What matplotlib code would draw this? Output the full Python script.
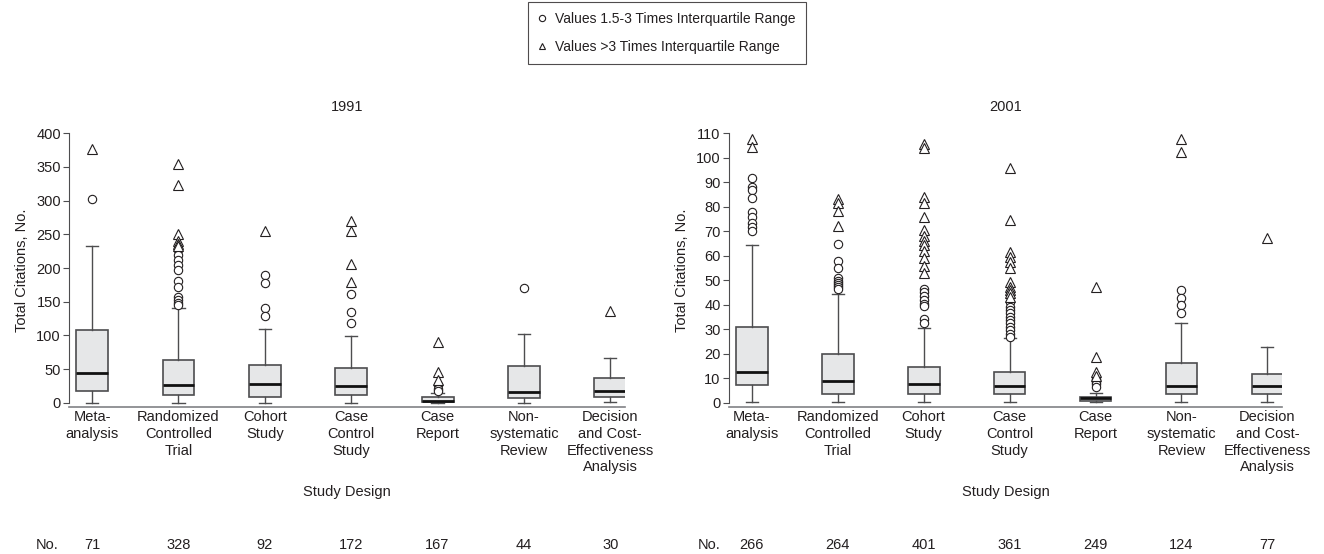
import matplotlib
matplotlib.use("Agg")
import matplotlib.pyplot as plt
from matplotlib.lines import Line2D

plt.rcParams['font.family'] = ['Liberation Sans', 'DejaVu Sans']
plt.rcParams['text.color'] = '#231f20'
plt.rcParams['axes.labelcolor'] = '#231f20'
plt.rcParams['xtick.color'] = '#231f20'
plt.rcParams['ytick.color'] = '#231f20'

designs = ["Meta-\nanalysis", "Randomized\nControlled\nTrial", "Cohort\nStudy",
           "Case\nControl\nStudy", "Case\nReport", "Non-\nsystematic\nReview",
           "Decision\nand Cost-\nEffectiveness\nAnalysis"]

# 1991
n_1991 = [71, 328, 92, 172, 167, 44, 30]
q1_1991 = [17, 11, 8.5, 11, 1, 6.5, 8]
med_1991 = [44, 27, 28, 25, 3, 16, 18]
q3_1991 = [108, 64, 56, 51, 9, 54, 36]
lo_1991 = [0, 0, 0, 0, 0, 0, 1.5]
hi_1991 = [233, 140, 109, 99, 14, 102, 67]
circ_1991 = [[303],
             [227, 219, 212, 205, 197, 180, 172, 157, 152, 148, 145],
             [190, 177, 141, 129],
             [161, 134, 118],
             [26, 21, 17],
             [171],
             []]
tri_1991 = [[376],
            [355, 323, 251, 240, 236, 232],
            [255],
            [270, 255, 206, 179],
            [90, 46, 34],
            [],
            [136]]

# 2001
n_2001 = [266, 264, 401, 361, 249, 124, 77]
q1_2001 = [7.4, 3.5, 3.5, 3.5, 0.7, 3.4, 3.5]
med_2001 = [12.4, 8.9, 7.6, 6.9, 1.8, 6.7, 6.9]
q3_2001 = [30.8, 19.9, 14.7, 12.4, 2.5, 16.3, 11.6]
lo_2001 = [0.4, 0.4, 0.4, 0.4, 0.2, 0.4, 0.4]
hi_2001 = [64.5, 44.5, 30.6, 26.3, 3.8, 32.4, 22.6]
circ_2001 = [[91.6, 88.2, 87, 83.5, 77.7, 76, 73.5, 71.6, 70.2],
             [64.8, 58, 55, 51, 49.8, 48.8, 48, 47.2, 46.5],
             [46.5, 45, 43.5, 42, 40.5, 39.3, 34, 32.5],
             [41.2, 39.2, 37.9, 36.5, 35.1, 33.8, 32.4, 31, 29.5, 28.2, 27],
             [9.5, 8.6, 7.5, 6.5],
             [46, 42.6, 39.9, 36.7],
             []]
tri_2001 = [[107.5, 104.5],
            [83, 81.5, 78.4, 72.2],
            [105.5, 104, 84, 81.5, 76, 70.5, 68, 66, 64.5, 62, 59, 56, 53],
            [95.7, 74.6, 61.7, 59.6, 57.6, 54.9, 49.4, 47.4, 46, 44.7, 43.3],
            [47.4, 18.8, 12.5, 11],
            [107.5, 102.5],
            [67.1]]

BOX_FILL = '#e6e7e8'
EDGE = '#4d4d4f'
FS = 10.5


def draw_panel(ax, title, q1, med, q3, lo, hi, circ, tri, ymax, ystep):
    pos = list(range(1, len(designs) + 1))
    stats = []
    for i in range(len(designs)):
        stats.append(dict(q1=q1[i], med=med[i], q3=q3[i], whislo=lo[i],
                          whishi=hi[i], fliers=[]))
    ax.bxp(stats, positions=pos, widths=0.37, capwidths=0.14,
           patch_artist=True, showfliers=False, manage_ticks=False,
           boxprops=dict(facecolor=BOX_FILL, edgecolor=EDGE, linewidth=1.2),
           medianprops=dict(color='#111111', linewidth=2),
           whiskerprops=dict(color=EDGE, linewidth=1),
           capprops=dict(color=EDGE, linewidth=1))

    # outliers: circles (1.5-3 IQR) and triangles (>3 IQR)
    for p, vals in zip(pos, circ):
        ax.plot([p] * len(vals), vals, linestyle='none', marker='o',
                markersize=6, markerfacecolor='white',
                markeredgecolor='#231f20', markeredgewidth=0.8)
    for p, vals in zip(pos, tri):
        ax.plot([p] * len(vals), vals, linestyle='none', marker='^',
                markersize=6.5, markerfacecolor='white',
                markeredgecolor='#231f20', markeredgewidth=0.8)

    ax.set_xlim(0.735, 7.17)
    ax.set_ylim(-ymax * 0.017, ymax)
    ax.set_yticks(range(0, ymax + 1, ystep))
    ax.set_xticks(pos)
    ax.set_xticklabels(designs, fontsize=FS, linespacing=1.25)
    ax.tick_params(axis='x', length=0, pad=2)
    ax.tick_params(axis='y', length=4, width=0.8, pad=2, labelsize=FS,
                   color=EDGE)
    for s in ['top', 'right']:
        ax.spines[s].set_visible(False)
    ax.spines['left'].set_color(EDGE)
    ax.spines['bottom'].set_color('#808285')
    ax.spines['bottom'].set_linewidth(1.2)
    ax.spines['left'].set_bounds(0, ymax)
    ax.set_title(title, fontsize=FS, pad=16)
    ax.set_ylabel("Total Citations, No.", fontsize=FS, labelpad=5)
    ax.set_xlabel("Study Design", fontsize=FS, labelpad=8)


fig = plt.figure(figsize=(13.24, 5.54), dpi=100)
ax1 = fig.add_axes([0.0523, 0.2648, 0.4197, 0.4946])
ax2 = fig.add_axes([0.5506, 0.2648, 0.4177, 0.4946])

draw_panel(ax1, "1991", q1_1991, med_1991, q3_1991, lo_1991, hi_1991,
           circ_1991, tri_1991, 400, 50)
draw_panel(ax2, "2001", q1_2001, med_2001, q3_2001, lo_2001, hi_2001,
           circ_2001, tri_2001, 110, 10)

# sample sizes row
for ax, counts, xno in [(ax1, n_1991, 0.027), (ax2, n_2001, 0.527)]:
    fig.text(xno, 0.016, "No.", fontsize=FS, va='center', ha='left')
    trans = matplotlib.transforms.blended_transform_factory(ax.transData, fig.transFigure)
    for p, n in zip(range(1, 8), counts):
        ax.text(p, 0.016, str(n), transform=trans, fontsize=FS,
                ha='center', va='center')

handles = [Line2D([], [], linestyle='none', marker='o', markersize=4.5,
                  markerfacecolor='white', markeredgecolor='#231f20', markeredgewidth=0.8),
           Line2D([], [], linestyle='none', marker='^', markersize=5,
                  markerfacecolor='white', markeredgecolor='#231f20', markeredgewidth=0.8)]
leg = fig.legend(handles, ["Values 1.5-3 Times Interquartile Range",
                           "Values >3 Times Interquartile Range"],
                 loc='upper center', bbox_to_anchor=(0.5035, 0.997),
                 fontsize=FS - 0.5, frameon=True, fancybox=False,
                 handlelength=0.6, handletextpad=0.6, borderpad=0.75,
                 labelspacing=1.0, borderaxespad=0)
leg.get_frame().set_edgecolor('#231f20')
leg.get_frame().set_linewidth(0.8)
leg._legend_box.align = 'left'

fig.savefig("out.png", dpi=100)
